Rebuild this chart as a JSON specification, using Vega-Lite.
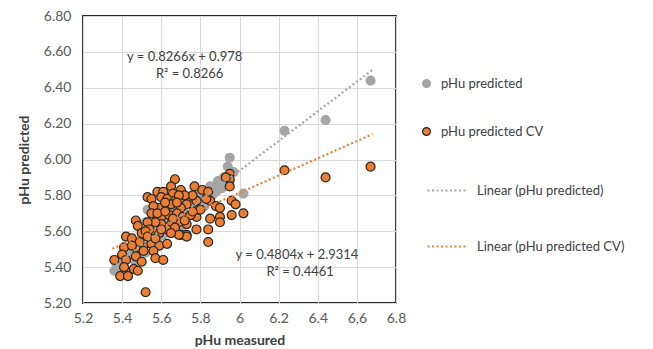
{
 "$schema": "https://vega.github.io/schema/vega-lite/v6.json",
 "width": 313,
 "height": 287,
 "autosize": {"type": "none"},
 "padding": {"left": 83, "top": 16, "right": 257, "bottom": 46},
 "background": "white",
 "config": {
  "view": {"stroke": "#262626", "strokeWidth": 1.8},
  "font": "Lato",
  "axis": {"grid": true, "gridColor": "#D9D9D9", "gridWidth": 1, "domain": false, "ticks": false, "labelOverlap": false,
   "labelFont": "Lato", "labelFontSize": 14, "labelColor": "#595959",
   "titleFont": "Lato", "titleFontSize": 14, "titleFontWeight": "bold", "titleColor": "#404040"},
  "axisQuantitative": {"labelOverlap": false, "tickCount": 9},
  "legend": {"labelFont": "Lato", "labelFontSize": 13, "labelColor": "#404040"}
 },
 "encoding": {
  "x": {"field": "measured", "type": "quantitative", "title": "pHu measured",
   "scale": {"domain": [5.2, 6.8], "nice": false, "zero": false},
   "axis": {"values": [5.2, 5.4, 5.6, 5.8, 6.0, 6.2, 6.4, 6.6, 6.8], "labelOverlap": false, "labelBound": false, "labelFlush": false, "labelPadding": 8, "titlePadding": 8,
    "labelExpr": "abs(datum.value - 6.6) < 0.001 ? '6,6' : format(datum.value, '~g')"}},
  "y": {"field": "predicted", "type": "quantitative", "title": "pHu predicted",
   "scale": {"domain": [5.2, 6.8], "nice": false, "zero": false},
   "axis": {"values": [5.2, 5.4, 5.6, 5.8, 6.0, 6.2, 6.4, 6.6, 6.8], "labelOverlap": false, "labelBound": false, "labelFlush": false, "format": ".2f", "labelPadding": 12, "titlePadding": 12}}
 },
 "datasets": {
  "points": [
   {"measured": 5.36, "predicted": 5.38, "series": "pHu predicted"},
   {"measured": 5.37, "predicted": 5.42, "series": "pHu predicted"},
   {"measured": 5.39, "predicted": 5.40, "series": "pHu predicted"},
   {"measured": 5.40, "predicted": 5.46, "series": "pHu predicted"},
   {"measured": 5.41, "predicted": 5.43, "series": "pHu predicted"},
   {"measured": 5.42, "predicted": 5.47, "series": "pHu predicted"},
   {"measured": 5.43, "predicted": 5.36, "series": "pHu predicted"},
   {"measured": 5.44, "predicted": 5.50, "series": "pHu predicted"},
   {"measured": 5.45, "predicted": 5.46, "series": "pHu predicted"},
   {"measured": 5.46, "predicted": 5.49, "series": "pHu predicted"},
   {"measured": 5.46, "predicted": 5.44, "series": "pHu predicted"},
   {"measured": 5.47, "predicted": 5.52, "series": "pHu predicted"},
   {"measured": 5.48, "predicted": 5.47, "series": "pHu predicted"},
   {"measured": 5.49, "predicted": 5.53, "series": "pHu predicted"},
   {"measured": 5.50, "predicted": 5.50, "series": "pHu predicted"},
   {"measured": 5.50, "predicted": 5.56, "series": "pHu predicted"},
   {"measured": 5.51, "predicted": 5.53, "series": "pHu predicted"},
   {"measured": 5.52, "predicted": 5.58, "series": "pHu predicted"},
   {"measured": 5.52, "predicted": 5.48, "series": "pHu predicted"},
   {"measured": 5.52, "predicted": 5.65, "series": "pHu predicted"},
   {"measured": 5.53, "predicted": 5.55, "series": "pHu predicted"},
   {"measured": 5.53, "predicted": 5.72, "series": "pHu predicted"},
   {"measured": 5.54, "predicted": 5.60, "series": "pHu predicted"},
   {"measured": 5.55, "predicted": 5.54, "series": "pHu predicted"},
   {"measured": 5.55, "predicted": 5.62, "series": "pHu predicted"},
   {"measured": 5.56, "predicted": 5.57, "series": "pHu predicted"},
   {"measured": 5.57, "predicted": 5.65, "series": "pHu predicted"},
   {"measured": 5.57, "predicted": 5.59, "series": "pHu predicted"},
   {"measured": 5.58, "predicted": 5.55, "series": "pHu predicted"},
   {"measured": 5.58, "predicted": 5.62, "series": "pHu predicted"},
   {"measured": 5.58, "predicted": 5.70, "series": "pHu predicted"},
   {"measured": 5.59, "predicted": 5.66, "series": "pHu predicted"},
   {"measured": 5.60, "predicted": 5.60, "series": "pHu predicted"},
   {"measured": 5.60, "predicted": 5.64, "series": "pHu predicted"},
   {"measured": 5.61, "predicted": 5.58, "series": "pHu predicted"},
   {"measured": 5.61, "predicted": 5.68, "series": "pHu predicted"},
   {"measured": 5.62, "predicted": 5.63, "series": "pHu predicted"},
   {"measured": 5.63, "predicted": 5.66, "series": "pHu predicted"},
   {"measured": 5.63, "predicted": 5.60, "series": "pHu predicted"},
   {"measured": 5.63, "predicted": 5.74, "series": "pHu predicted"},
   {"measured": 5.64, "predicted": 5.70, "series": "pHu predicted"},
   {"measured": 5.65, "predicted": 5.65, "series": "pHu predicted"},
   {"measured": 5.65, "predicted": 5.62, "series": "pHu predicted"},
   {"measured": 5.66, "predicted": 5.68, "series": "pHu predicted"},
   {"measured": 5.67, "predicted": 5.72, "series": "pHu predicted"},
   {"measured": 5.67, "predicted": 5.64, "series": "pHu predicted"},
   {"measured": 5.68, "predicted": 5.67, "series": "pHu predicted"},
   {"measured": 5.69, "predicted": 5.70, "series": "pHu predicted"},
   {"measured": 5.69, "predicted": 5.66, "series": "pHu predicted"},
   {"measured": 5.70, "predicted": 5.73, "series": "pHu predicted"},
   {"measured": 5.70, "predicted": 5.62, "series": "pHu predicted"},
   {"measured": 5.71, "predicted": 5.69, "series": "pHu predicted"},
   {"measured": 5.72, "predicted": 5.67, "series": "pHu predicted"},
   {"measured": 5.72, "predicted": 5.74, "series": "pHu predicted"},
   {"measured": 5.73, "predicted": 5.71, "series": "pHu predicted"},
   {"measured": 5.74, "predicted": 5.76, "series": "pHu predicted"},
   {"measured": 5.75, "predicted": 5.72, "series": "pHu predicted"},
   {"measured": 5.76, "predicted": 5.70, "series": "pHu predicted"},
   {"measured": 5.77, "predicted": 5.78, "series": "pHu predicted"},
   {"measured": 5.78, "predicted": 5.74, "series": "pHu predicted"},
   {"measured": 5.79, "predicted": 5.80, "series": "pHu predicted"},
   {"measured": 5.80, "predicted": 5.76, "series": "pHu predicted"},
   {"measured": 5.81, "predicted": 5.79, "series": "pHu predicted"},
   {"measured": 5.82, "predicted": 5.74, "series": "pHu predicted"},
   {"measured": 5.83, "predicted": 5.82, "series": "pHu predicted"},
   {"measured": 5.84, "predicted": 5.78, "series": "pHu predicted"},
   {"measured": 5.85, "predicted": 5.85, "series": "pHu predicted"},
   {"measured": 5.86, "predicted": 5.80, "series": "pHu predicted"},
   {"measured": 5.87, "predicted": 5.84, "series": "pHu predicted"},
   {"measured": 5.88, "predicted": 5.82, "series": "pHu predicted"},
   {"measured": 5.89, "predicted": 5.88, "series": "pHu predicted"},
   {"measured": 5.90, "predicted": 5.87, "series": "pHu predicted"},
   {"measured": 5.91, "predicted": 5.84, "series": "pHu predicted"},
   {"measured": 5.92, "predicted": 5.90, "series": "pHu predicted"},
   {"measured": 5.94, "predicted": 5.96, "series": "pHu predicted"},
   {"measured": 5.95, "predicted": 6.01, "series": "pHu predicted"},
   {"measured": 5.95, "predicted": 5.88, "series": "pHu predicted"},
   {"measured": 5.97, "predicted": 5.93, "series": "pHu predicted"},
   {"measured": 6.02, "predicted": 5.81, "series": "pHu predicted"},
   {"measured": 6.23, "predicted": 6.16, "series": "pHu predicted"},
   {"measured": 6.44, "predicted": 6.22, "series": "pHu predicted"},
   {"measured": 6.67, "predicted": 6.44, "series": "pHu predicted"},
   {"measured": 5.67, "predicted": 5.89, "series": "pHu predicted CV"},
   {"measured": 5.77, "predicted": 5.85, "series": "pHu predicted CV"},
   {"measured": 5.81, "predicted": 5.83, "series": "pHu predicted CV"},
   {"measured": 5.95, "predicted": 5.92, "series": "pHu predicted CV"},
   {"measured": 5.95, "predicted": 5.89, "series": "pHu predicted CV"},
   {"measured": 5.95, "predicted": 5.85, "series": "pHu predicted CV"},
   {"measured": 5.58, "predicted": 5.82, "series": "pHu predicted CV"},
   {"measured": 5.61, "predicted": 5.82, "series": "pHu predicted CV"},
   {"measured": 5.65, "predicted": 5.85, "series": "pHu predicted CV"},
   {"measured": 5.70, "predicted": 5.83, "series": "pHu predicted CV"},
   {"measured": 5.66, "predicted": 5.81, "series": "pHu predicted CV"},
   {"measured": 5.53, "predicted": 5.79, "series": "pHu predicted CV"},
   {"measured": 5.55, "predicted": 5.78, "series": "pHu predicted CV"},
   {"measured": 5.60, "predicted": 5.79, "series": "pHu predicted CV"},
   {"measured": 5.63, "predicted": 5.78, "series": "pHu predicted CV"},
   {"measured": 5.67, "predicted": 5.77, "series": "pHu predicted CV"},
   {"measured": 5.74, "predicted": 5.79, "series": "pHu predicted CV"},
   {"measured": 5.78, "predicted": 5.77, "series": "pHu predicted CV"},
   {"measured": 5.71, "predicted": 5.77, "series": "pHu predicted CV"},
   {"measured": 5.85, "predicted": 5.77, "series": "pHu predicted CV"},
   {"measured": 5.88, "predicted": 5.74, "series": "pHu predicted CV"},
   {"measured": 5.90, "predicted": 5.73, "series": "pHu predicted CV"},
   {"measured": 5.96, "predicted": 5.77, "series": "pHu predicted CV"},
   {"measured": 5.98, "predicted": 5.75, "series": "pHu predicted CV"},
   {"measured": 6.02, "predicted": 5.70, "series": "pHu predicted CV"},
   {"measured": 5.96, "predicted": 5.69, "series": "pHu predicted CV"},
   {"measured": 5.90, "predicted": 5.68, "series": "pHu predicted CV"},
   {"measured": 5.85, "predicted": 5.67, "series": "pHu predicted CV"},
   {"measured": 5.90, "predicted": 5.65, "series": "pHu predicted CV"},
   {"measured": 5.78, "predicted": 5.68, "series": "pHu predicted CV"},
   {"measured": 5.79, "predicted": 5.72, "series": "pHu predicted CV"},
   {"measured": 5.73, "predicted": 5.75, "series": "pHu predicted CV"},
   {"measured": 5.70, "predicted": 5.73, "series": "pHu predicted CV"},
   {"measured": 5.65, "predicted": 5.75, "series": "pHu predicted CV"},
   {"measured": 5.59, "predicted": 5.73, "series": "pHu predicted CV"},
   {"measured": 5.56, "predicted": 5.74, "series": "pHu predicted CV"},
   {"measured": 5.55, "predicted": 5.70, "series": "pHu predicted CV"},
   {"measured": 5.60, "predicted": 5.68, "series": "pHu predicted CV"},
   {"measured": 5.64, "predicted": 5.69, "series": "pHu predicted CV"},
   {"measured": 5.68, "predicted": 5.70, "series": "pHu predicted CV"},
   {"measured": 5.71, "predicted": 5.68, "series": "pHu predicted CV"},
   {"measured": 5.75, "predicted": 5.69, "series": "pHu predicted CV"},
   {"measured": 5.73, "predicted": 5.64, "series": "pHu predicted CV"},
   {"measured": 5.69, "predicted": 5.65, "series": "pHu predicted CV"},
   {"measured": 5.65, "predicted": 5.64, "series": "pHu predicted CV"},
   {"measured": 5.60, "predicted": 5.64, "series": "pHu predicted CV"},
   {"measured": 5.57, "predicted": 5.65, "series": "pHu predicted CV"},
   {"measured": 5.53, "predicted": 5.65, "series": "pHu predicted CV"},
   {"measured": 5.47, "predicted": 5.66, "series": "pHu predicted CV"},
   {"measured": 5.48, "predicted": 5.63, "series": "pHu predicted CV"},
   {"measured": 5.42, "predicted": 5.57, "series": "pHu predicted CV"},
   {"measured": 5.45, "predicted": 5.56, "series": "pHu predicted CV"},
   {"measured": 5.50, "predicted": 5.59, "series": "pHu predicted CV"},
   {"measured": 5.54, "predicted": 5.61, "series": "pHu predicted CV"},
   {"measured": 5.59, "predicted": 5.59, "series": "pHu predicted CV"},
   {"measured": 5.63, "predicted": 5.61, "series": "pHu predicted CV"},
   {"measured": 5.67, "predicted": 5.62, "series": "pHu predicted CV"},
   {"measured": 5.70, "predicted": 5.58, "series": "pHu predicted CV"},
   {"measured": 5.73, "predicted": 5.58, "series": "pHu predicted CV"},
   {"measured": 5.78, "predicted": 5.61, "series": "pHu predicted CV"},
   {"measured": 5.84, "predicted": 5.61, "series": "pHu predicted CV"},
   {"measured": 5.84, "predicted": 5.54, "series": "pHu predicted CV"},
   {"measured": 5.41, "predicted": 5.51, "series": "pHu predicted CV"},
   {"measured": 5.47, "predicted": 5.51, "series": "pHu predicted CV"},
   {"measured": 5.51, "predicted": 5.52, "series": "pHu predicted CV"},
   {"measured": 5.55, "predicted": 5.53, "series": "pHu predicted CV"},
   {"measured": 5.59, "predicted": 5.52, "series": "pHu predicted CV"},
   {"measured": 5.63, "predicted": 5.53, "series": "pHu predicted CV"},
   {"measured": 5.51, "predicted": 5.49, "series": "pHu predicted CV"},
   {"measured": 5.56, "predicted": 5.49, "series": "pHu predicted CV"},
   {"measured": 5.40, "predicted": 5.47, "series": "pHu predicted CV"},
   {"measured": 5.36, "predicted": 5.44, "series": "pHu predicted CV"},
   {"measured": 5.42, "predicted": 5.44, "series": "pHu predicted CV"},
   {"measured": 5.47, "predicted": 5.46, "series": "pHu predicted CV"},
   {"measured": 5.50, "predicted": 5.43, "series": "pHu predicted CV"},
   {"measured": 5.57, "predicted": 5.45, "series": "pHu predicted CV"},
   {"measured": 5.61, "predicted": 5.44, "series": "pHu predicted CV"},
   {"measured": 5.41, "predicted": 5.40, "series": "pHu predicted CV"},
   {"measured": 5.46, "predicted": 5.39, "series": "pHu predicted CV"},
   {"measured": 5.39, "predicted": 5.35, "series": "pHu predicted CV"},
   {"measured": 5.43, "predicted": 5.35, "series": "pHu predicted CV"},
   {"measured": 5.48, "predicted": 5.38, "series": "pHu predicted CV"},
   {"measured": 5.52, "predicted": 5.26, "series": "pHu predicted CV"},
   {"measured": 5.73, "predicted": 5.57, "series": "pHu predicted CV"},
   {"measured": 5.69, "predicted": 5.58, "series": "pHu predicted CV"},
   {"measured": 5.76, "predicted": 5.80, "series": "pHu predicted CV"},
   {"measured": 5.72, "predicted": 5.80, "series": "pHu predicted CV"},
   {"measured": 5.69, "predicted": 5.80, "series": "pHu predicted CV"},
   {"measured": 5.83, "predicted": 5.78, "series": "pHu predicted CV"},
   {"measured": 5.84, "predicted": 5.82, "series": "pHu predicted CV"},
   {"measured": 5.80, "predicted": 5.72, "series": "pHu predicted CV"},
   {"measured": 5.62, "predicted": 5.76, "series": "pHu predicted CV"},
   {"measured": 5.58, "predicted": 5.70, "series": "pHu predicted CV"},
   {"measured": 5.52, "predicted": 5.60, "series": "pHu predicted CV"},
   {"measured": 5.60, "predicted": 5.61, "series": "pHu predicted CV"},
   {"measured": 5.66, "predicted": 5.67, "series": "pHu predicted CV"},
   {"measured": 5.72, "predicted": 5.66, "series": "pHu predicted CV"},
   {"measured": 5.76, "predicted": 5.71, "series": "pHu predicted CV"},
   {"measured": 5.68, "predicted": 5.76, "series": "pHu predicted CV"},
   {"measured": 5.62, "predicted": 5.71, "series": "pHu predicted CV"},
   {"measured": 5.49, "predicted": 5.54, "series": "pHu predicted CV"},
   {"measured": 5.45, "predicted": 5.52, "series": "pHu predicted CV"},
   {"measured": 5.53, "predicted": 5.57, "series": "pHu predicted CV"},
   {"measured": 5.57, "predicted": 5.56, "series": "pHu predicted CV"},
   {"measured": 5.65, "predicted": 5.59, "series": "pHu predicted CV"},
   {"measured": 5.93, "predicted": 5.90, "series": "pHu predicted CV"},
   {"measured": 6.23, "predicted": 5.94, "series": "pHu predicted CV"},
   {"measured": 6.44, "predicted": 5.90, "series": "pHu predicted CV"},
   {"measured": 6.67, "predicted": 5.96, "series": "pHu predicted CV"}
  ],
  "trend": [
   {"measured": 5.35, "predicted": 5.400, "series": "Linear (pHu predicted)"},
   {"measured": 6.68, "predicted": 6.500, "series": "Linear (pHu predicted)"},
   {"measured": 5.35, "predicted": 5.502, "series": "Linear (pHu predicted CV)"},
   {"measured": 6.68, "predicted": 6.141, "series": "Linear (pHu predicted CV)"}
  ],
  "notes": [
   {"measured": 5.72, "predicted": 6.571, "label": "y = 0.8266x + 0.978"},
   {"measured": 5.745, "predicted": 6.476, "label": "R² = 0.8266"},
   {"measured": 6.294, "predicted": 5.468, "label": "y = 0.4804x + 2.9314"},
   {"measured": 6.31, "predicted": 5.371, "label": "R² = 0.4461"}
  ]
 },
 "layer": [
  {
   "data": {"name": "points"},
   "mark": {"type": "point", "filled": true, "opacity": 1, "size": 80, "strokeWidth": 1.2},
   "encoding": {
    "color": {"field": "series", "type": "nominal",
     "scale": {"domain": ["pHu predicted", "pHu predicted CV"], "range": ["#A5A5A5", "#ED7D31"]},
     "legend": {"orient": "none", "legendX": 337, "legendY": 61, "title": null, "symbolType": "circle", "symbolSize": 60, "rowPadding": 34, "labelOffset": 8, "symbolStrokeWidth": 1.2}},
    "stroke": {"field": "series", "type": "nominal",
     "scale": {"domain": ["pHu predicted", "pHu predicted CV"], "range": ["#A5A5A5", "#262626"]},
     "legend": {"orient": "none", "legendX": 337, "legendY": 61, "title": null, "symbolType": "circle", "symbolSize": 60, "rowPadding": 34, "labelOffset": 8, "symbolStrokeWidth": 1.2}}
   }
  },
  {
   "data": {"name": "trend"},
   "mark": {"type": "line", "strokeWidth": 2.2, "strokeDash": [2, 2.5]},
   "encoding": {
    "color": {"field": "series", "type": "nominal",
     "scale": {"domain": ["Linear (pHu predicted)", "Linear (pHu predicted CV)"], "range": ["#A5A5A5", "#ED7D31"]},
     "legend": {"orient": "none", "legendX": 343, "legendY": 153, "title": null, "symbolType": "stroke", "symbolSize": 1600, "symbolStrokeWidth": 2.2, "symbolDash": [2, 2.5], "rowPadding": 27, "labelOffset": 8}}
   }
  },
  {
   "data": {"name": "notes"},
   "mark": {"type": "text", "fontSize": 13, "color": "#404040", "font": "Lato"},
   "encoding": {
    "text": {"field": "label", "type": "nominal"}
   }
  }
 ],
 "resolve": {"scale": {"color": "independent", "stroke": "independent"}, "legend": {"color": "independent"}}
}
